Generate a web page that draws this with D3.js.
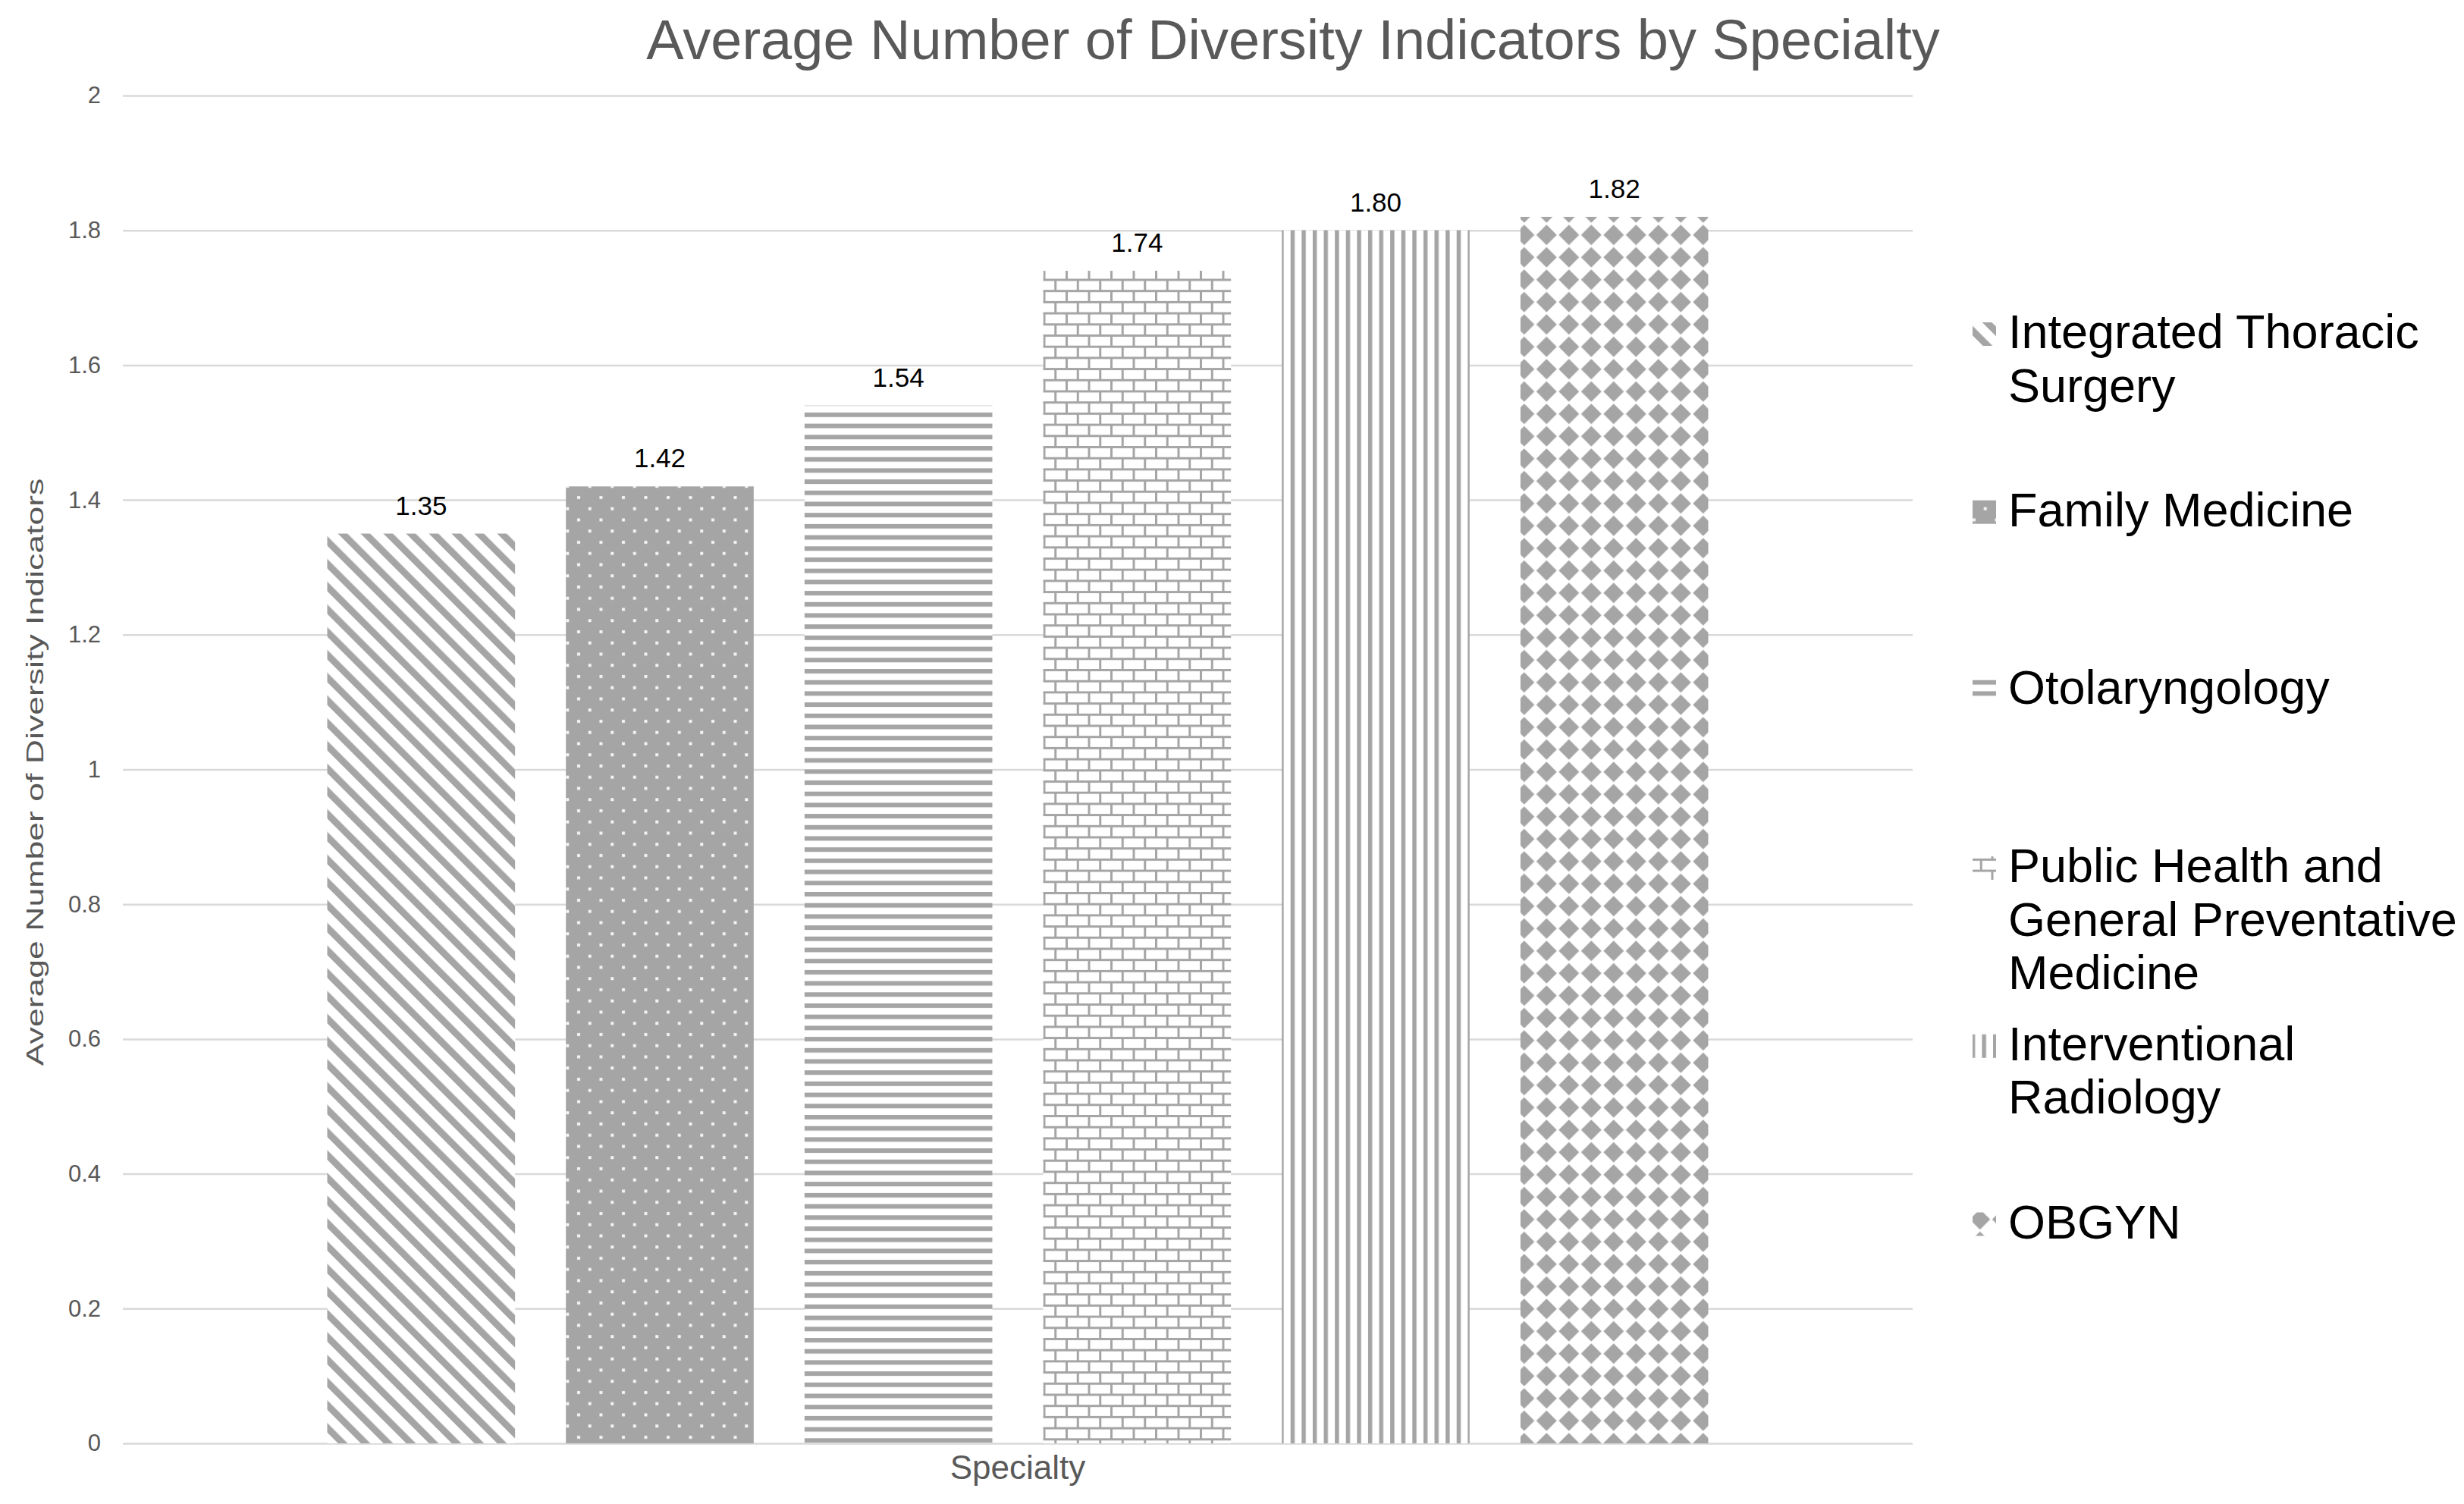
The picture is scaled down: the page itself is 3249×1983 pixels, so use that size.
<!DOCTYPE html>
<html>
<head>
<meta charset="utf-8">
<script src="https://cdn.jsdelivr.net/npm/d3@7"></script>
<style>
  body { margin: 0; background: #fff; }
  text { font-family: "Liberation Sans", Arial, sans-serif; }
</style>
</head>
<body>
<svg id="chart" width="3249" height="1983"></svg>
<script>
// data
var categories = ["Specialty"];
var specialties = ["Integrated Thoracic Surgery", "Family Medicine", "Otolaryngology",
  "Public Health and General Preventative Medicine", "Interventional Radiology", "OBGYN"];
var averages = [1.35, 1.42, 1.54, 1.74, 1.80, 1.82];
var valueLabels = ["1.35", "1.42", "1.54", "1.74", "1.80", "1.82"];
var legendLines = [["Integrated Thoracic", "Surgery"], ["Family Medicine"], ["Otolaryngology"],
  ["Public Health and", "General Preventative", "Medicine"], ["Interventional", "Radiology"], ["OBGYN"]];
var yTicks = [0, 0.2, 0.4, 0.6, 0.8, 1, 1.2, 1.4, 1.6, 1.8, 2];
var yTickLabels = ["0", "0.2", "0.4", "0.6", "0.8", "1", "1.2", "1.4", "1.6", "1.8", "2"];

var svg = d3.select("#chart");
var gray = "#a5a5a5";
var plotLeft = 162, plotRight = 2522, plotTop = 126, plotBottom = 1903;

var y = d3.scaleLinear().domain([0, 2]).range([plotBottom, plotTop]);
var x0 = d3.scaleBand().domain(categories).range([plotLeft, plotRight]).paddingInner(0).paddingOuter(0.148);
var x1 = d3.scaleBand().domain(specialties).range([0, x0.bandwidth()]).paddingInner(0.213);

// fill patterns (excel-like)
var defs = svg.append("defs");
function pat(id, w, h) {
  return defs.append("pattern").attr("id", id).attr("patternUnits", "userSpaceOnUse")
    .attr("width", w).attr("height", h);
}
var p0 = pat("pat0", 21.2, 21.2).attr("patternTransform", "rotate(-45)");
p0.append("rect").attr("width", 21.2).attr("height", 21.2).attr("fill", "#fff");
p0.append("rect").attr("width", 9).attr("height", 21.2).attr("fill", gray);

var p1 = pat("pat1", 29.5, 29.5);
p1.append("rect").attr("width", 29.5).attr("height", 29.5).attr("fill", gray);
p1.append("rect").attr("x", 5).attr("y", 5).attr("width", 4).attr("height", 4).attr("fill", "#f4f4f4");
p1.append("rect").attr("x", 19.75).attr("y", 19.75).attr("width", 4).attr("height", 4).attr("fill", "#f4f4f4");

var p2 = pat("pat2", 14.7, 14.7);
p2.append("rect").attr("width", 14.7).attr("height", 14.7).attr("fill", "#fff");
p2.append("rect").attr("width", 14.7).attr("height", 6).attr("fill", gray);

var p3 = pat("pat3", 29.5, 29.4);
p3.append("rect").attr("width", 29.5).attr("height", 29.4).attr("fill", "#fff");
p3.append("rect").attr("width", 29.5).attr("height", 3).attr("fill", gray);
p3.append("rect").attr("y", 14.7).attr("width", 29.5).attr("height", 3).attr("fill", gray);
p3.append("rect").attr("width", 3).attr("height", 14.7).attr("fill", gray);
p3.append("rect").attr("x", 14.75).attr("y", 14.7).attr("width", 3).attr("height", 14.7).attr("fill", gray);

var p4 = pat("pat4", 14.6, 14.6);
p4.append("rect").attr("width", 14.6).attr("height", 14.6).attr("fill", "#fff");
p4.append("rect").attr("width", 5.5).attr("height", 14.6).attr("fill", gray);

var p5 = pat("pat5", 29.5, 29.5);
p5.append("rect").attr("width", 29.5).attr("height", 29.5).attr("fill", "#fff");
p5.append("polygon").attr("points", "14.75,1.25 28.25,14.75 14.75,28.25 1.25,14.75").attr("fill", gray);

// gridlines + y ticks
var yAxis = d3.axisLeft(y).tickValues(yTicks)
  .tickFormat(function(d, i) { return yTickLabels[i]; })
  .tickSize(-(plotRight - plotLeft)).tickPadding(29);
var ga = svg.append("g").attr("transform", "translate(" + plotLeft + ",0)").call(yAxis);
ga.select(".domain").remove();
ga.selectAll(".tick line").attr("stroke", "#d9d9d9").attr("stroke-width", 2.5);
ga.selectAll(".tick text").attr("fill", "#595959").attr("font-size", 31)
  .attr("font-family", "Liberation Sans, Arial, sans-serif");

// bars
var g = svg.append("g").attr("transform", "translate(" + x0(categories[0]) + ",0)");
g.selectAll("rect.bar").data(averages).enter().append("rect").attr("class", "bar")
  .attr("x", function(d, i) { return x1(specialties[i]); })
  .attr("y", function(d) { return y(d); })
  .attr("width", x1.bandwidth())
  .attr("height", function(d) { return y(0) - y(d); })
  .attr("fill", function(d, i) { return "url(#pat" + i + ")"; });

g.selectAll("text.lbl").data(averages).enter().append("text").attr("class", "lbl")
  .attr("x", function(d, i) { return x1(specialties[i]) + x1.bandwidth() / 2; })
  .attr("y", function(d) { return y(d) - 25; })
  .attr("text-anchor", "middle").attr("font-size", 35).attr("fill", "#000")
  .text(function(d, i) { return valueLabels[i]; });

// titles
svg.append("text").attr("x", 1705).attr("y", 78).attr("text-anchor", "middle")
  .attr("font-size", 74).attr("fill", "#595959")
  .text("Average Number of Diversity Indicators by Specialty");

svg.append("text").attr("x", (plotLeft + plotRight) / 2).attr("y", 1950).attr("text-anchor", "middle")
  .attr("font-size", 44).attr("fill", "#595959").text("Specialty");

var yt = svg.append("text").attr("text-anchor", "middle")
  .attr("font-size", 32).attr("fill", "#595959")
  .text("Average Number of Diversity Indicators");
var sx = 775 / yt.node().getComputedTextLength();
yt.attr("transform", "translate(57,1018) rotate(-90) scale(" + sx + ",1)");

// legend
var legY0 = 459, legStep = 234.7, lineH = 70.5;
var leg = svg.append("g");
legendLines.forEach(function(lines, i) {
  var by = legY0 + i * legStep;
  leg.append("rect").attr("x", 2601).attr("y", by - 34).attr("width", 31).attr("height", 31)
    .attr("fill", "url(#pat" + i + ")");
  var t = leg.append("text").attr("x", 2648).attr("y", by).attr("font-size", 63).attr("fill", "#000");
  lines.forEach(function(s, j) {
    t.append("tspan").attr("x", 2648).attr("y", by + j * lineH).text(s);
  });
});
</script>
</body>
</html>
